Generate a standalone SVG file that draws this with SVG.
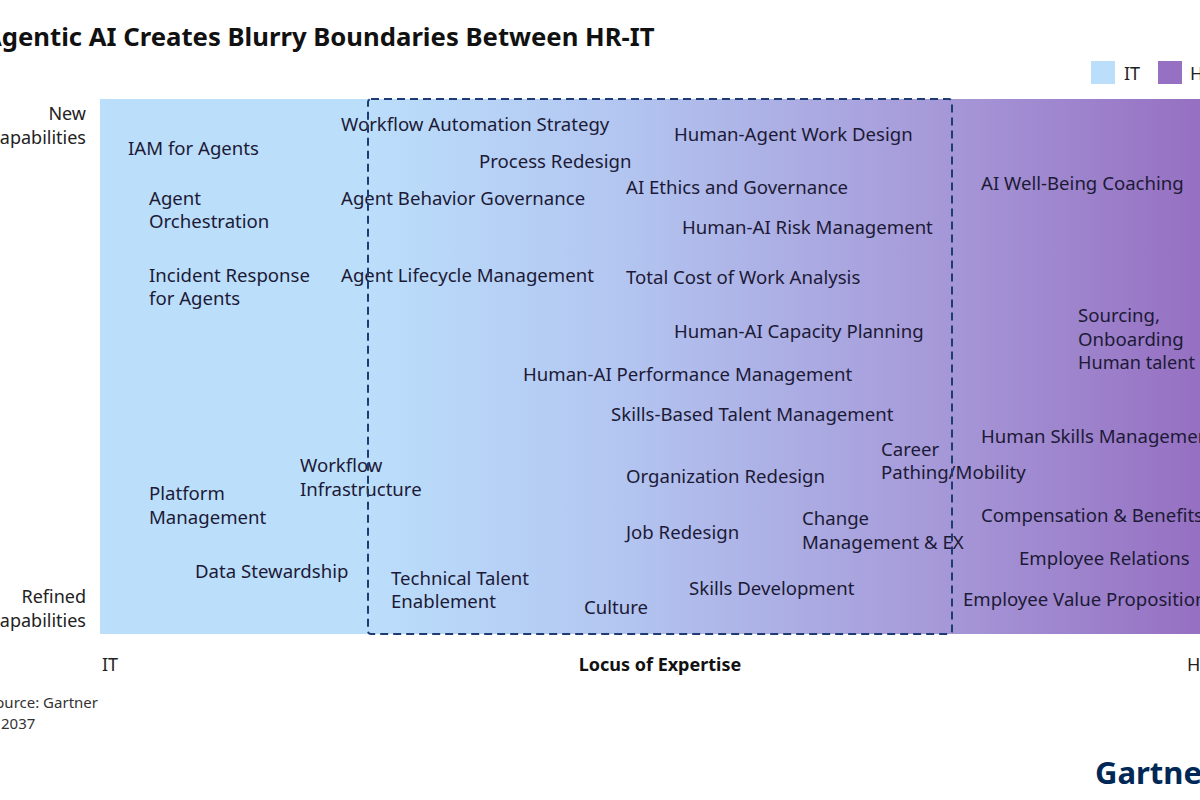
<svg xmlns="http://www.w3.org/2000/svg" width="1200" height="800" viewBox="0 0 1200 800">
<defs>
<linearGradient id="panelGrad" gradientUnits="userSpaceOnUse" x1="100" y1="0" x2="1200" y2="0">
<stop offset="0" stop-color="#BBDEFB"/>
<stop offset="0.245" stop-color="#BBDEFB"/>
<stop offset="0.47" stop-color="#B3C6F1"/>
<stop offset="0.78" stop-color="#A596D7"/>
<stop offset="1" stop-color="#9670C2"/>
</linearGradient>
<style>
.lbl{font-family:"Noto Sans","Liberation Sans",sans-serif;font-size:18.6px;fill:#1C1A36;}
.axis{font-family:"Noto Sans","Liberation Sans",sans-serif;font-size:18px;fill:#222;}
.axisB{font-family:"Noto Sans","Liberation Sans",sans-serif;font-size:18px;font-weight:bold;fill:#111;}
.title{font-family:"Noto Sans","Liberation Sans",sans-serif;font-size:25.7px;font-weight:bold;fill:#111;}
.src{font-family:"Noto Sans","Liberation Sans",sans-serif;font-size:15px;fill:#333;}
.logo{font-family:"Noto Sans","Liberation Sans",sans-serif;font-size:31px;font-weight:bold;fill:#002856;}
.dash{fill:none;stroke:#1F3B73;stroke-width:2;stroke-dasharray:8 5;}
</style>
</defs>
<rect width="1200" height="800" fill="#FFFFFF"/>
<text class="title" x="-16" y="46">Agentic AI Creates Blurry Boundaries Between HR-IT</text>
<g id="legend">
<rect x="1091" y="61" width="24" height="23" fill="#BBDEFB"/>
<text class="axis" x="1124" y="80">IT</text>
<rect x="1158" y="61" width="24" height="23" fill="#9670C2"/>
<text class="axis" x="1190" y="80">HR</text>
</g>
<g id="panel">
<rect x="100" y="99" width="1110" height="535" fill="url(#panelGrad)"/>
</g>
<g id="axes">
<text class="axis" text-anchor="end" x="86" y="120">New</text>
<text class="axis" text-anchor="end" x="86" y="144">Capabilities</text>
<text class="axis" text-anchor="end" x="86" y="603">Refined</text>
<text class="axis" text-anchor="end" x="86" y="627">Capabilities</text>
<text class="axis" x="102" y="671">IT</text>
<text class="axisB" text-anchor="middle" x="660" y="671">Locus of Expertise</text>
<text class="axis" x="1187" y="671">HR</text>
</g>
<g id="nodes">
<g id="n-iam"><text class="lbl" x="128" y="155">IAM for Agents</text></g>
<g id="n-orch"><text class="lbl" x="149" y="205">Agent</text><text class="lbl" x="149" y="228">Orchestration</text></g>
<g id="n-incident"><text class="lbl" x="149" y="282">Incident Response</text><text class="lbl" x="149" y="305">for Agents</text></g>
<g id="n-was"><text class="lbl" x="341" y="131">Workflow Automation Strategy</text></g>
<g id="n-pr"><text class="lbl" x="479" y="168">Process Redesign</text></g>
<g id="n-hawd"><text class="lbl" x="674" y="141">Human-Agent Work Design</text></g>
<g id="n-aieg"><text class="lbl" x="626" y="194">AI Ethics and Governance</text></g>
<g id="n-abg"><text class="lbl" x="341" y="205">Agent Behavior Governance</text></g>
<g id="n-harm"><text class="lbl" x="682" y="234">Human-AI Risk Management</text></g>
<g id="n-alm"><text class="lbl" x="341" y="282">Agent Lifecycle Management</text></g>
<g id="n-tcwa"><text class="lbl" x="626" y="284">Total Cost of Work Analysis</text></g>
<g id="n-aiwb"><text class="lbl" x="981" y="190">AI Well-Being Coaching</text></g>
<g id="n-hacp"><text class="lbl" x="674" y="338">Human-AI Capacity Planning</text></g>
<g id="n-src"><text class="lbl" x="1078" y="322">Sourcing,</text><text class="lbl" x="1078" y="346">Onboarding</text><text class="lbl" x="1078" y="369" textLength="117" lengthAdjust="spacingAndGlyphs">Human talent</text></g>
<g id="n-hapm"><text class="lbl" x="523" y="381">Human-AI Performance Management</text></g>
<g id="n-sbtm"><text class="lbl" x="611" y="421">Skills-Based Talent Management</text></g>
<g id="n-hsm"><text class="lbl" x="981" y="443">Human Skills Management</text></g>
<g id="n-cpm"><text class="lbl" x="881" y="456">Career</text><text class="lbl" x="881" y="479">Pathing/Mobility</text></g>
<g id="n-wi"><text class="lbl" x="300" y="472">Workflow</text><text class="lbl" x="300" y="496">Infrastructure</text></g>
<g id="n-or"><text class="lbl" x="626" y="483">Organization Redesign</text></g>
<g id="n-pm"><text class="lbl" x="149" y="500">Platform</text><text class="lbl" x="149" y="524">Management</text></g>
<g id="n-cb"><text class="lbl" x="981" y="522">Compensation &amp; Benefits</text></g>
<g id="n-jr"><text class="lbl" x="626" y="539">Job Redesign</text></g>
<g id="n-cm"><text class="lbl" x="802" y="525">Change</text><text class="lbl" x="802" y="549">Management &amp; EX</text></g>
<g id="n-er"><text class="lbl" x="1019" y="565">Employee Relations</text></g>
<g id="n-ds"><text class="lbl" x="195" y="578">Data Stewardship</text></g>
<g id="n-tte"><text class="lbl" x="391" y="585">Technical Talent</text><text class="lbl" x="391" y="608">Enablement</text></g>
<g id="n-sd"><text class="lbl" x="689" y="595">Skills Development</text></g>
<g id="n-cul"><text class="lbl" x="584" y="614">Culture</text></g>
<g id="n-evp"><text class="lbl" x="963" y="606">Employee Value Proposition</text></g>
</g>
<g id="connectors">
<rect class="dash" x="368" y="99" width="584" height="535" rx="3"/>
</g>
<g id="footer">
<text class="src" text-anchor="end" x="98" y="708">Source: Gartner</text>
<text class="src" x="1" y="729">2037</text>
<text class="logo" x="1095" y="784">Gartner</text>
</g>
</svg>
